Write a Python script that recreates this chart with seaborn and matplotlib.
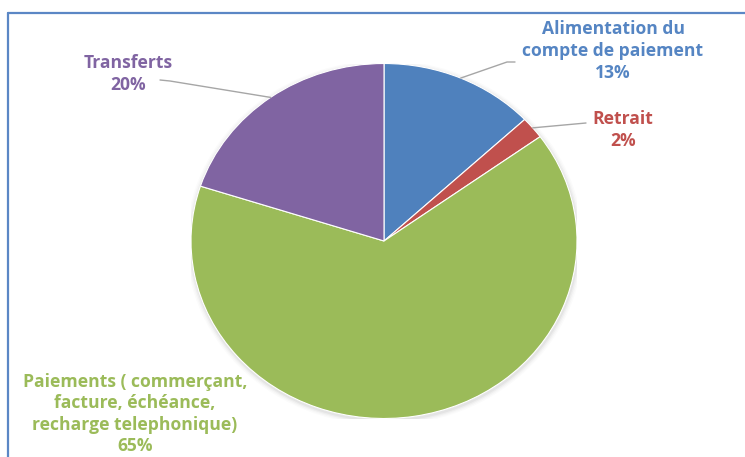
import numpy as np
import matplotlib
matplotlib.use("Agg")
import matplotlib.pyplot as plt
import seaborn as sns
from matplotlib.lines import Line2D
from matplotlib.patches import Ellipse

categories = ["Alimentation du\ncompte de paiement", "Retrait",
              "Paiements ( commerçant,\nfacture, échéance,\nrecharge telephonique)",
              "Transferts"]
values = [13, 2, 65, 20]
pct_labels = ["13%", "2%", "65%", "20%"]
colors = ["#4F81BD", "#C0504D", "#9BBB59", "#8064A2"]
text_colors = ["#5585C3", "#C0504D", "#9BBB59", "#8064A2"]

sns.set_theme(style="white")
plt.rcParams['font.family'] = ['Open Sans', 'DejaVu Sans']

W, H = 745, 457
fig = plt.figure(figsize=(W / 100, H / 100), dpi=100)
fig.patch.set_facecolor("white")

# pie axes placed in pixel extent (ellipse: 193 px horiz, 177.5 px vert radius)
cx, cy, rx, ry = 384, 241, 193, 177.5
ax = fig.add_axes([(cx - rx) / W, 1 - (cy + ry) / H, 2 * rx / W, 2 * ry / H])
ax.axis('off')

# soft shadow
for i, a in enumerate([0.04, 0.03, 0.02, 0.015]):
    s = 1 + 0.007 * (i + 1)
    ax.add_patch(Ellipse((0.003, -0.01), 2 * s, 2 * s, facecolor="#000000",
                         alpha=a, edgecolor='none', zorder=0))

wedges, _ = ax.pie(values, colors=colors, startangle=90, counterclock=False,
                   radius=1, wedgeprops=dict(edgecolor="white", linewidth=0.8),
                   frame=False)
ax.set_xlim(-1, 1)
ax.set_ylim(-1, 1)
ax.set_aspect('auto')

def px2fig(x, y):
    return x / W, 1 - y / H

# label positions (pixel centres) and leader line elbows
label_pos = [(613, 51), (623, 130), (135, 414), (128, 74)]
elbows = [[(507, 62), (515, 62)], [(586, 123)], None, [(170, 81), (160, 80)]]

for w, lab, pct, tc, pos, elb in zip(wedges, categories, pct_labels,
                                     text_colors, label_pos, elbows):
    fx, fy = px2fig(*pos)
    fig.text(fx, fy, lab + "\n" + pct, ha='center', va='center', color=tc,
             fontsize=12.6, fontweight='bold', linespacing=1.25)
    if elb is not None:
        ang = np.deg2rad((w.theta1 + w.theta2) / 2)
        sx, sy = cx + rx * np.cos(ang), cy - ry * np.sin(ang)
        pts = [(sx, sy)] + elb
        xs = [p[0] / W for p in pts]
        ys = [1 - p[1] / H for p in pts]
        fig.add_artist(Line2D(xs, ys, color="#A6A6A6", lw=1.0,
                              transform=fig.transFigure))

# chart frame (clipped at right and bottom)
fig.add_artist(Line2D([8 / W, 1.0], [1 - 13 / H, 1 - 13 / H], color="#5B87C5",
                      lw=1.6, transform=fig.transFigure))
fig.add_artist(Line2D([8 / W, 8 / W], [1 - 13 / H, 0.0], color="#5B87C5",
                      lw=1.6, transform=fig.transFigure))

fig.savefig("out.png", dpi=100)
